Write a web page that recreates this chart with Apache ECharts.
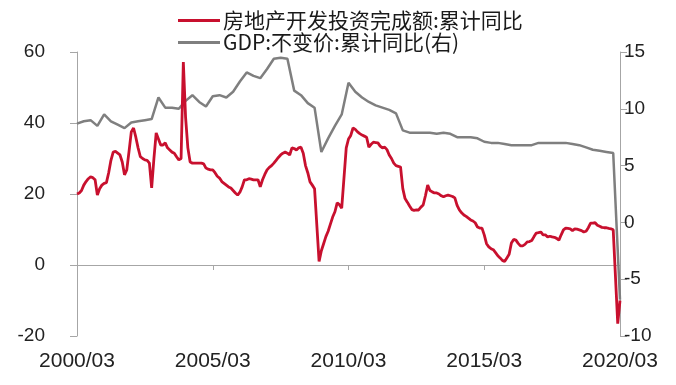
<!DOCTYPE html>
<html>
<head>
<meta charset="utf-8">
<script src="https://cdn.jsdelivr.net/npm/echarts@6/dist/echarts.min.js"></script>
<style>
html,body{margin:0;padding:0;background:#fff;}
#chart{width:676px;height:385px;}
</style>
</head>
<body>
<div id="chart"></div>
<script>
// Series names
const seriesNames = ['房地产开发投资完成额:累计同比', 'GDP:不变价:累计同比(右)'];

// Monthly categories 2000/03 .. 2020/03
const months = [];
for (let y = 2000; y <= 2020; y++) {
  for (let m = 1; m <= 12; m++) {
    if ((y > 2000 || m >= 3) && (y < 2020 || m <= 3)) {
      months.push(y + '/' + (m < 10 ? '0' + m : m));
    }
  }
}

// Real estate investment, cumulative YoY (%), monthly from 2000/03 (left axis)
const realEstate = [
  20, 20.3, 21, 22.5, 23.5, 24.3, 24.8, 24.6, 24, 19.7, 21.5, 22.5,
  23, 23.2, 26, 29.5, 31.8, 32, 31.5, 31, 29, 25.4, 26.8, 32,
  37.5, 38.6, 36, 33, 30.5, 30, 29.6, 29.5, 28.7, 21.7, 30, 37.2,
  35.5, 33.8, 33.8, 34.4, 33, 32.4, 31.8, 31.5, 30.5, 29.6, 30, 57.2,
  41.5, 33, 29, 28.7, 28.7, 28.7, 28.7, 28.7, 28.5, 27.3, 27, 26.8,
  26.8, 26, 25, 24.5, 23.5, 23, 22.5, 22, 21.7, 21, 20.3, 19.7,
  20.5, 22, 24, 24, 24.3, 24.2, 24, 24, 24, 22, 24, 25.5,
  26.8, 27.5, 28, 28.7, 29.5, 30.3, 31, 31.5, 31.8, 31.5, 31, 33,
  32.8, 32.4, 33, 33.2, 31.5, 28, 26, 23.4, 22.5, 21.5, null, 1.0,
  4, 6, 8, 9.5, 11.5, 13.5, 15, 17.5, 17, 16, null, 33,
  35.5, 36.5, 38.6, 38.2, 37.5, 37, 36.6, 36.3, 36, 33.2, 34, 34.6,
  34.5, 34.4, 33.5, 33, 33.2, 32.5, 31, 30, 28.7, 28, 27.8, 27.6,
  21.5, 18.7, 17.7, 16.6, 15.6, 15.4, 15.5, 15.5, 16.3, 16.9, 19.5, 22.5,
  21, 20.6, 20.3, 20.3, 20, 19.5, 19.2, 19.5, 19.7, 19.5, 19.3, 18.9,
  16.8, 15.5, 14.7, 14.1, 13.7, 13.2, 12.7, 12.4, 11.9, 10.7, 10.4, 10.4,
  8.5, 6, 5.1, 4.6, 4.3, 3.5, 2.6, 2.0, 1.3, 1.0, 2.0, 3.0,
  6.2, 7.2, 7.0, 6.1, 5.4, 5.4, 5.8, 6.5, 6.6, 6.9, 8.0, 9.0,
  9.1, 9.3, 8.5, 8.5, 7.9, 8.1, 7.9, 7.8, 7.5, 7.0, 8.5, 9.9,
  10.4, 10.3, 10.2, 9.7, 10.2, 10.1, 9.9, 9.7, 9.3, 9.5, 10.5, 11.8,
  11.8, 11.9, 11.2, 10.9, 10.6, 10.5, 10.5, 10.3, 10.2, 9.9, null, -16.5, -10
];

// GDP constant price cumulative YoY (%), quarterly from 2000Q1 (right axis)
const gdpQuarterly = [
  8.7, 8.9, 9.0, 8.5,
  9.5, 8.9, 8.6, 8.3,
  8.8, 8.9, 9.0, 9.1,
  11.0, 10.1, 10.1, 10.0,
  10.7, 11.2, 10.6, 10.2,
  11.1, 11.2, 11.0, 11.5,
  12.4, 13.2, 12.9, 12.7,
  13.5, 14.4, 14.5, 14.4,
  11.6, 11.2, 10.5, 10.1,
  6.2, 7.4, 8.5, 9.5,
  12.3, 11.5, 11.0, 10.6,
  10.3, 10.1, 9.9, 9.6,
  8.1, 7.9, 7.9, 7.9,
  7.9, 7.8, 7.9, 7.8,
  7.5, 7.5, 7.5, 7.4,
  7.1, 7.0, 7.0, 6.9,
  6.8, 6.8, 6.8, 6.8,
  7.0, 7.0, 7.0, 7.0,
  7.0, 6.9, 6.8, 6.6,
  6.4, 6.3, 6.2, 6.1,
  -6.8
];

// Axis ticks
const leftAxis = { min: -20, max: 60, interval: 20 };
const rightAxis = { min: -10, max: 15, interval: 5 };
const labelEvery = 60; // one label every 5 years

const gdpData = gdpQuarterly.map((v, i) => [months[i * 3], v]);

const axisColor = '#a6a6a6';
const numFont = 'Liberation Sans, Arial, sans-serif';
const cjkFont = '"Noto Sans CJK SC", sans-serif';

const chart = echarts.init(document.getElementById('chart'), null, { renderer: 'canvas' });
chart.setOption({
  backgroundColor: '#ffffff',
  animation: false,
  grid: { left: 77, right: 56, top: 52, bottom: 49, containLabel: false, outerBoundsMode: 'none' },
  legend: {
    orient: 'vertical',
    left: 173,
    top: 5,
    itemWidth: 42,
    itemHeight: 3,
    itemGap: 1,
    itemStyle: { borderWidth: 0 },
    textStyle: { fontSize: 21, fontFamily: cjkFont, color: '#1a1a1a', lineHeight: 20, padding: [0,0,0,-2] },
    data: [
      { name: seriesNames[0], icon: 'rect' },
      { name: seriesNames[1], icon: 'rect' }
    ]
  },
  xAxis: [
    {
      type: 'category',
      data: months,
      boundaryGap: false,
      position: 'bottom',
      axisLine: { show: false, onZero: false },
      axisTick: { show: false },
      splitLine: { show: false },
      axisLabel: {
        interval: labelEvery - 1,
        fontSize: 21,
        fontFamily: numFont,
        color: '#222',
        margin: 15,
        showMinLabel: true,
        showMaxLabel: true
      }
    },
    {
      type: 'category',
      data: months,
      boundaryGap: false,
      position: 'bottom',
      axisLine: { show: true, onZero: true, onZeroAxisIndex: 0, lineStyle: { color: axisColor, width: 1 } },
      axisTick: { show: true, interval: labelEvery - 1, length: 5, lineStyle: { color: axisColor } },
      axisLabel: { show: false },
      splitLine: { show: false }
    }
  ],
  yAxis: [
    {
      type: 'value',
      position: 'left',
      min: leftAxis.min, max: leftAxis.max, interval: leftAxis.interval,
      axisLine: { show: true, lineStyle: { color: axisColor, width: 1 } },
      axisTick: { show: true, length: 7, lineStyle: { color: axisColor } },
      splitLine: { show: false },
      axisLabel: { fontSize: 19, fontFamily: numFont, color: '#222', margin: 32 }
    },
    {
      type: 'value',
      position: 'right',
      min: rightAxis.min, max: rightAxis.max, interval: rightAxis.interval,
      axisLine: { show: true, lineStyle: { color: axisColor, width: 1 } },
      axisTick: { show: true, length: 7, lineStyle: { color: axisColor } },
      splitLine: { show: false },
      axisLabel: { fontSize: 19, fontFamily: numFont, color: '#222', margin: 4 }
    }
  ],
  series: [
    {
      name: seriesNames[1],
      type: 'line',
      xAxisIndex: 0,
      yAxisIndex: 1,
      data: gdpData,
      showSymbol: false,
      symbol: 'none',
      connectNulls: true,
      itemStyle: { color: '#7f7f7f' },
      lineStyle: { color: '#7f7f7f', width: 2.5 },
      z: 2
    },
    {
      name: seriesNames[0],
      type: 'line',
      xAxisIndex: 0,
      yAxisIndex: 0,
      data: realEstate,
      showSymbol: false,
      symbol: 'none',
      connectNulls: true,
      itemStyle: { color: '#c8102e' },
      lineStyle: { color: '#c8102e', width: 2.8 },
      z: 3
    }
  ]
});
</script>
</body>
</html>
